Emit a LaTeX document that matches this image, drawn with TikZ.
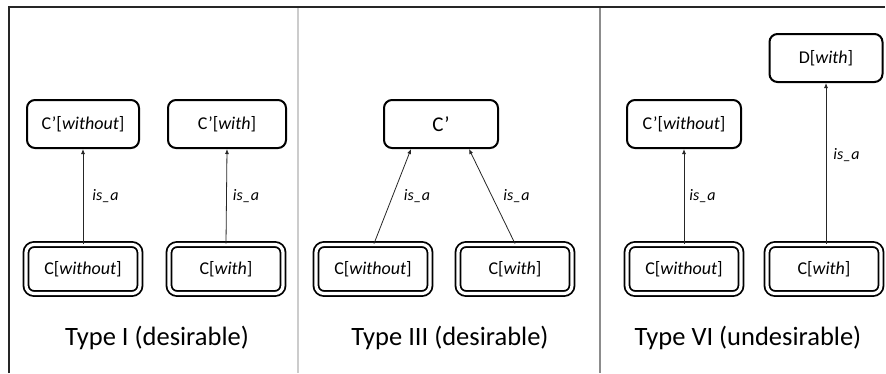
\documentclass[tikz,border=0pt]{standalone}
\usepackage{fontspec}
\setmainfont{Carlito}
\usetikzlibrary{arrows.meta,calc}
\tikzset{
  cbox/.style={draw=black, line width=2pt, rounded corners=8pt, fill=white,
    minimum height=48pt, inner sep=0pt, font=\fontsize{18}{20}\selectfont},
  dbox/.style={draw=black, line width=1.8pt, double=white, double distance=3.2pt,
    rounded corners=8pt, minimum width=114pt, minimum height=49pt, inner sep=0pt,
    font=\fontsize{18}{20}\selectfont},
  isa/.style={draw=black!85, line width=0.8pt, -{Latex[length=5pt,width=4pt]}},
  lbl/.style={font=\fontsize{16}{18}\selectfont\itshape, inner sep=0pt, anchor=west},
  ttl/.style={font=\fontsize{26.5}{30}\selectfont, inner sep=0pt},
}
\begin{document}
\begin{tikzpicture}[x=1pt,y=-1pt]
\useasboundingbox (0,0) rectangle (886,373);
% frame
\draw[line width=1.6pt, black!85] (9,373) -- (9,7) -- (885,7);
\draw[line width=2pt, black!20] (298,8) -- (298,373);
\draw[line width=1.2pt, black!45] (600,8) -- (600,373);

% Panel 1
\node[cbox, minimum width=112pt] (p1a) at (83,124) {C’[\textit{without}]};
\node[cbox, minimum width=118pt] (p1b) at (227,124) {C’[\textit{with}]};
\node[dbox] (c1a) at (83,269) {C[\textit{without}]};
\node[dbox] (c1b) at (226,269) {C[\textit{with}]};
\draw[isa] (c1a.north) -- node[lbl, pos=0.5, xshift=9pt] {is\_a} (p1a.south);
\draw[isa] (c1b.north) -- node[lbl, pos=0.5, xshift=6pt] {is\_a} (p1b.south);
\node[ttl] (t1) at (157,338) {Type I (desirable)};

% Panel 2
\node[cbox, minimum width=114pt, font=\fontsize{21}{24}\selectfont] (p2) at (441,124) {C’};
\node[dbox] (c2a) at (373,269) {C[\textit{without}]};
\node[dbox] (c2b) at (515,269) {C[\textit{with}]};
\draw[isa] ($(c2a.north)+(1,0)$) -- node[lbl, pos=0.5, xshift=11pt] {is\_a} ($(p2.south)+(-30,0)$);
\draw[isa] (c2b.north) -- node[lbl, pos=0.5, xshift=11pt] {is\_a} ($(p2.south)+(28,0)$);
\node[ttl] (t2) at (450,338) {Type III (desirable)};

% Panel 3
\node[cbox, minimum width=113pt] (p3d) at (826,58) {D[\textit{with}]};
\node[cbox, minimum width=114pt] (p3a) at (684,124) {C’[\textit{without}]};
\node[dbox] (c3a) at (684,269) {C[\textit{without}]};
\node[dbox] (c3b) at (824,269) {C[\textit{with}]};
\draw[isa] (c3a.north) -- node[lbl, pos=0.5, xshift=5pt] {is\_a} (p3a.south);
\draw[isa] (c3b.north -| p3d.south) -- node[lbl, pos=0.55, xshift=7pt] {is\_a} (p3d.south);
\node[ttl] (t3) at (748,338) {Type VI (undesirable)};
\end{tikzpicture}
\end{document}
